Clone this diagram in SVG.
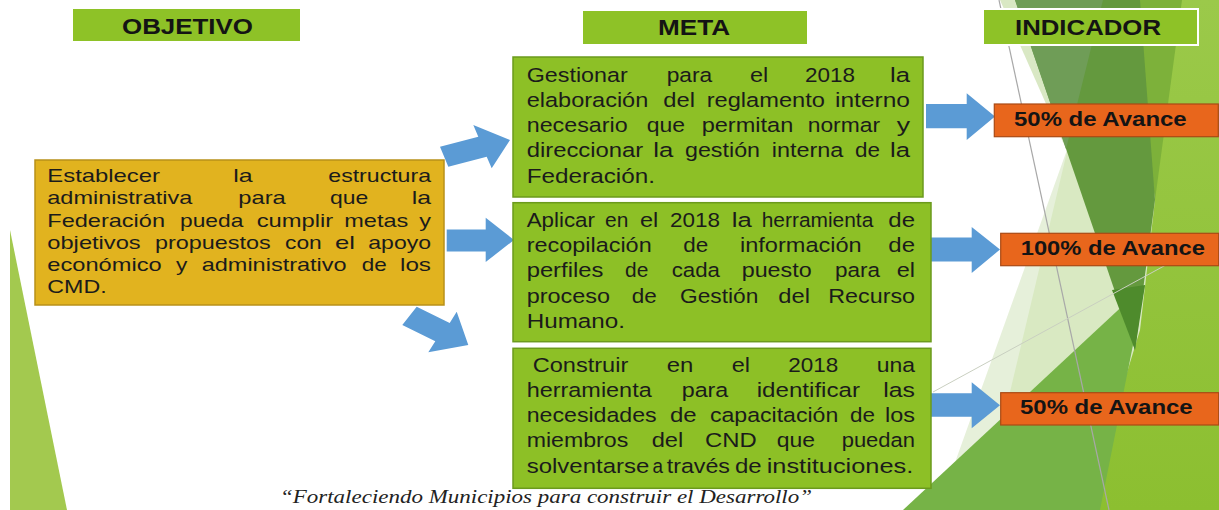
<svg xmlns="http://www.w3.org/2000/svg" width="1219" height="510" viewBox="0 0 1219 510">
<style>
.hdr{fill:#8EC227}
.hdrt{font-family:"Liberation Sans",Arial,sans-serif;font-weight:bold;font-size:22px;fill:#141414}
.meta{fill:#8DC026;stroke:#6B9A1D;stroke-width:1.5}
.obj{fill:#E1B31F;stroke:#B8911A;stroke-width:1.5}
.ind{fill:#E8661C;stroke:#A94A14;stroke-width:1.2}
.t{font-family:"Liberation Sans",Arial,sans-serif;fill:#1B1B1B}
.to{font-size:18.5px}
.tm{font-size:20.5px}
.ti{font-family:"Liberation Sans",Arial,sans-serif;font-weight:bold;font-size:20px;fill:#141414}
.arr{fill:#5B9BD5}
.foot{font-family:"Liberation Serif","Times New Roman",serif;font-style:italic;font-size:18px;fill:#222}
</style>
<defs>
  <linearGradient id="gR" x1="0" y1="0" x2="0" y2="1">
    <stop offset="0" stop-color="#9BC94A"/>
    <stop offset="1" stop-color="#8CBF30"/>
  </linearGradient>
</defs>
<rect width="1219" height="510" fill="#FFFFFF"/>
<g id="background">
  <polygon points="10,230 10,510 67,510" fill="#A3C94F"/>
  <polygon points="1068,147 938,510 1219,510" fill="#E6F0DA"/>
  <polygon points="1103,0 982,510 1219,510 1219,0" fill="#D9E9C2"/>
  <polygon points="1155,0 1219,0 1219,510 1085,510 1140,330 1155,200" fill="url(#gR)"/>
  <polygon points="1130,0 1182,0 1155,200" fill="#7DB13A"/>
  <polygon points="1000,0 1015,0 1066,149" fill="#D9E8C4"/>
  <polygon points="1015,0 1140,0 1155,200 1135,350" fill="#64993E"/>
  <polygon points="1015,0 1103,0 1066,149" fill="#6F9D57"/>
  <polygon points="903,510 1145,285 1100,510" fill="#76B347"/>
  <polygon points="1112,290 1145,285 1135,350" fill="#4E8B2C"/>
  <line x1="999" y1="0" x2="1109" y2="510" stroke="#A8A8A8" stroke-width="1.2"/>
  <line x1="933" y1="392" x2="1219" y2="236" stroke="#C9CFC0" stroke-width="1"/>
</g>
<g id="connectors">
  <polygon class="arr" points="440,146.7 478.3,136.8 473.3,125 510,140 491.7,168.3 486.7,156.7 448.3,166.7"/>
  <polygon class="arr" points="446.7,229.5 485.7,229.5 485.7,217.7 514,240 485.7,262 485.7,251.5 446.7,251.5"/>
  <polygon class="arr" points="416.7,306.7 449.7,322.9 456.7,311.7 468.3,345 428.3,352.3 435.3,341.2 402.3,325"/>
  <polygon class="arr" points="926,104 966.7,104 966.7,93.3 995,116.5 966.7,140 966.7,128.3 926,128.3"/>
  <polygon class="arr" points="931,237.5 971.7,237.5 971.7,227 1000,249.5 971.7,273 971.7,261.5 931,261.5"/>
  <polygon class="arr" points="931,393.3 971.7,393.3 971.7,382.3 1000,405.3 971.7,428.3 971.7,416.7 931,416.7"/>
</g>
<g id="header-objetivo">
  <rect class="hdr" x="73" y="9" width="227" height="32"/>
  <text class="hdrt" x="122" y="33.5" textLength="131" lengthAdjust="spacingAndGlyphs">OBJETIVO</text>
</g>
<g id="header-meta">
  <rect class="hdr" x="583" y="11" width="224" height="33"/>
  <text class="hdrt" x="658" y="35" textLength="72" lengthAdjust="spacingAndGlyphs">META</text>
</g>
<g id="header-indicador">
  <rect class="hdr" x="983" y="9" width="215" height="36" stroke="#FFFFFF" stroke-width="2"/>
  <text class="hdrt" x="1015" y="35" textLength="146" lengthAdjust="spacingAndGlyphs">INDICADOR</text>
</g>
<g id="objetivo">
  <rect class="obj" x="35" y="160" width="409" height="145"/>
  <text class="t to" y="181.5"><tspan x="47.3" textLength="112.7" lengthAdjust="spacingAndGlyphs">Establecer</tspan><tspan x="233.3" textLength="19.4" lengthAdjust="spacingAndGlyphs">la</tspan><tspan x="328.3" textLength="102.7" lengthAdjust="spacingAndGlyphs">estructura</tspan></text>
  <text class="t to" y="204"><tspan x="47.3" textLength="145" lengthAdjust="spacingAndGlyphs">administrativa</tspan><tspan x="238.3" textLength="47.4" lengthAdjust="spacingAndGlyphs">para</tspan><tspan x="330" textLength="38.3" lengthAdjust="spacingAndGlyphs">que</tspan><tspan x="411.7" textLength="19.3" lengthAdjust="spacingAndGlyphs">la</tspan></text>
  <text class="t to" y="226.5"><tspan x="47.3" textLength="117.7" lengthAdjust="spacingAndGlyphs">Federación</tspan><tspan x="180" textLength="63.3" lengthAdjust="spacingAndGlyphs">pueda</tspan><tspan x="256.7" textLength="76.6" lengthAdjust="spacingAndGlyphs">cumplir</tspan><tspan x="344.3" textLength="64" lengthAdjust="spacingAndGlyphs">metas</tspan><tspan x="419.3" textLength="11.7" lengthAdjust="spacingAndGlyphs">y</tspan></text>
  <text class="t to" y="248.5"><tspan x="47.3" textLength="93.4" lengthAdjust="spacingAndGlyphs">objetivos</tspan><tspan x="155" textLength="115.7" lengthAdjust="spacingAndGlyphs">propuestos</tspan><tspan x="285" textLength="36.7" lengthAdjust="spacingAndGlyphs">con</tspan><tspan x="335" textLength="20" lengthAdjust="spacingAndGlyphs">el</tspan><tspan x="368.3" textLength="62.7" lengthAdjust="spacingAndGlyphs">apoyo</tspan></text>
  <text class="t to" y="270.7"><tspan x="47.3" textLength="114.4" lengthAdjust="spacingAndGlyphs">económico</tspan><tspan x="176" textLength="11.3" lengthAdjust="spacingAndGlyphs">y</tspan><tspan x="201.7" textLength="145" lengthAdjust="spacingAndGlyphs">administrativo</tspan><tspan x="361.7" textLength="25" lengthAdjust="spacingAndGlyphs">de</tspan><tspan x="400" textLength="31" lengthAdjust="spacingAndGlyphs">los</tspan></text>
  <text class="t to" y="293"><tspan x="47.3" textLength="59.4" lengthAdjust="spacingAndGlyphs">CMD.</tspan></text>
</g>
<g id="meta-1">
  <rect class="meta" x="513" y="57" width="410" height="140"/>
  <text class="t tm" y="81.7"><tspan x="526.7" textLength="101" lengthAdjust="spacingAndGlyphs">Gestionar</tspan><tspan x="666.7" textLength="45.6" lengthAdjust="spacingAndGlyphs">para</tspan><tspan x="750" textLength="18.3" lengthAdjust="spacingAndGlyphs">el</tspan><tspan x="805" textLength="50" lengthAdjust="spacingAndGlyphs">2018</tspan><tspan x="890" textLength="20" lengthAdjust="spacingAndGlyphs">la</tspan></text>
  <text class="t tm" y="106.7"><tspan x="526.7" textLength="121.6" lengthAdjust="spacingAndGlyphs">elaboración</tspan><tspan x="663.3" textLength="31.7" lengthAdjust="spacingAndGlyphs">del</tspan><tspan x="706.7" textLength="118.3" lengthAdjust="spacingAndGlyphs">reglamento</tspan><tspan x="835" textLength="75" lengthAdjust="spacingAndGlyphs">interno</tspan></text>
  <text class="t tm" y="132"><tspan x="526.7" textLength="101" lengthAdjust="spacingAndGlyphs">necesario</tspan><tspan x="646.7" textLength="38.3" lengthAdjust="spacingAndGlyphs">que</tspan><tspan x="701.7" textLength="91.6" lengthAdjust="spacingAndGlyphs">permitan</tspan><tspan x="807.7" textLength="72.3" lengthAdjust="spacingAndGlyphs">normar</tspan><tspan x="896.7" textLength="13.3" lengthAdjust="spacingAndGlyphs">y</tspan></text>
  <text class="t tm" y="157.3"><tspan x="526.7" textLength="116.6" lengthAdjust="spacingAndGlyphs">direccionar</tspan><tspan x="653.3" textLength="20" lengthAdjust="spacingAndGlyphs">la</tspan><tspan x="685" textLength="75" lengthAdjust="spacingAndGlyphs">gestión</tspan><tspan x="771.7" textLength="71.6" lengthAdjust="spacingAndGlyphs">interna</tspan><tspan x="855" textLength="25" lengthAdjust="spacingAndGlyphs">de</tspan><tspan x="890" textLength="20" lengthAdjust="spacingAndGlyphs">la</tspan></text>
  <text class="t tm" y="182.7"><tspan x="526.7" textLength="128.3" lengthAdjust="spacingAndGlyphs">Federación.</tspan></text>
</g>
<g id="meta-2">
  <rect class="meta" x="513" y="202.7" width="418" height="139"/>
  <text class="t tm" y="226.7"><tspan x="526.7" textLength="68.3" lengthAdjust="spacingAndGlyphs">Aplicar</tspan><tspan x="605" textLength="23.3" lengthAdjust="spacingAndGlyphs">en</tspan><tspan x="640" textLength="18.3" lengthAdjust="spacingAndGlyphs">el</tspan><tspan x="670" textLength="50" lengthAdjust="spacingAndGlyphs">2018</tspan><tspan x="731.7" textLength="20" lengthAdjust="spacingAndGlyphs">la</tspan><tspan x="761.7" textLength="111.6" lengthAdjust="spacingAndGlyphs">herramienta</tspan><tspan x="888.3" textLength="26.7" lengthAdjust="spacingAndGlyphs">de</tspan></text>
  <text class="t tm" y="251.7"><tspan x="526.7" textLength="125" lengthAdjust="spacingAndGlyphs">recopilación</tspan><tspan x="683.3" textLength="25" lengthAdjust="spacingAndGlyphs">de</tspan><tspan x="740" textLength="121.7" lengthAdjust="spacingAndGlyphs">información</tspan><tspan x="888.3" textLength="26.7" lengthAdjust="spacingAndGlyphs">de</tspan></text>
  <text class="t tm" y="276.7"><tspan x="526.7" textLength="76.6" lengthAdjust="spacingAndGlyphs">perfiles</tspan><tspan x="625" textLength="23.3" lengthAdjust="spacingAndGlyphs">de</tspan><tspan x="671.7" textLength="48.3" lengthAdjust="spacingAndGlyphs">cada</tspan><tspan x="741.7" textLength="70" lengthAdjust="spacingAndGlyphs">puesto</tspan><tspan x="835" textLength="45" lengthAdjust="spacingAndGlyphs">para</tspan><tspan x="896.7" textLength="18.3" lengthAdjust="spacingAndGlyphs">el</tspan></text>
  <text class="t tm" y="302.7"><tspan x="526.7" textLength="83.3" lengthAdjust="spacingAndGlyphs">proceso</tspan><tspan x="631.7" textLength="25" lengthAdjust="spacingAndGlyphs">de</tspan><tspan x="680" textLength="78.3" lengthAdjust="spacingAndGlyphs">Gestión</tspan><tspan x="778.3" textLength="31.7" lengthAdjust="spacingAndGlyphs">del</tspan><tspan x="828.3" textLength="86.7" lengthAdjust="spacingAndGlyphs">Recurso</tspan></text>
  <text class="t tm" y="328.3"><tspan x="526.7" textLength="98.3" lengthAdjust="spacingAndGlyphs">Humano.</tspan></text>
</g>
<g id="meta-3">
  <rect class="meta" x="513" y="348.3" width="418" height="140"/>
  <text class="t tm" y="371.7"><tspan x="532.7" textLength="95.6" lengthAdjust="spacingAndGlyphs">Construir</tspan><tspan x="666.7" textLength="26.6" lengthAdjust="spacingAndGlyphs">en</tspan><tspan x="731.7" textLength="18.3" lengthAdjust="spacingAndGlyphs">el</tspan><tspan x="788.3" textLength="50" lengthAdjust="spacingAndGlyphs">2018</tspan><tspan x="876.7" textLength="38.3" lengthAdjust="spacingAndGlyphs">una</tspan></text>
  <text class="t tm" y="396.7"><tspan x="526.7" textLength="125" lengthAdjust="spacingAndGlyphs">herramienta</tspan><tspan x="681.7" textLength="46.6" lengthAdjust="spacingAndGlyphs">para</tspan><tspan x="756.7" textLength="103.3" lengthAdjust="spacingAndGlyphs">identificar</tspan><tspan x="883.3" textLength="31.7" lengthAdjust="spacingAndGlyphs">las</tspan></text>
  <text class="t tm" y="422.3"><tspan x="526.7" textLength="130" lengthAdjust="spacingAndGlyphs">necesidades</tspan><tspan x="670" textLength="26.7" lengthAdjust="spacingAndGlyphs">de</tspan><tspan x="710" textLength="128.3" lengthAdjust="spacingAndGlyphs">capacitación</tspan><tspan x="850" textLength="25" lengthAdjust="spacingAndGlyphs">de</tspan><tspan x="885" textLength="30" lengthAdjust="spacingAndGlyphs">los</tspan></text>
  <text class="t tm" y="447.3"><tspan x="526.7" textLength="101.6" lengthAdjust="spacingAndGlyphs">miembros</tspan><tspan x="651.7" textLength="31.6" lengthAdjust="spacingAndGlyphs">del</tspan><tspan x="705" textLength="51.7" lengthAdjust="spacingAndGlyphs">CND</tspan><tspan x="776.7" textLength="38.3" lengthAdjust="spacingAndGlyphs">que</tspan><tspan x="841.7" textLength="73.3" lengthAdjust="spacingAndGlyphs">puedan</tspan></text>
  <text class="t tm" y="472.7"><tspan x="526.7" textLength="122.6" lengthAdjust="spacingAndGlyphs">solventarse</tspan><tspan x="652.5" textLength="10.5" lengthAdjust="spacingAndGlyphs">a</tspan><tspan x="666.7" textLength="63.3" lengthAdjust="spacingAndGlyphs">través</tspan><tspan x="735" textLength="26.7" lengthAdjust="spacingAndGlyphs">de</tspan><tspan x="766.7" textLength="146.6" lengthAdjust="spacingAndGlyphs">instituciones.</tspan></text>
</g>
<g id="indicador-1">
  <rect class="ind" x="994.3" y="104" width="224" height="32.7"/>
  <text class="ti" x="1014" y="126" textLength="172.7" lengthAdjust="spacingAndGlyphs">50% de Avance</text>
</g>
<g id="indicador-2">
  <rect class="ind" x="1000.7" y="233.3" width="218" height="32.4"/>
  <text class="ti" x="1020.7" y="255" textLength="184.3" lengthAdjust="spacingAndGlyphs">100% de Avance</text>
</g>
<g id="indicador-3">
  <rect class="ind" x="1000.7" y="392.7" width="218" height="32.3"/>
  <text class="ti" x="1020" y="414.3" textLength="172.7" lengthAdjust="spacingAndGlyphs">50% de Avance</text>
</g>
<text class="foot" x="280" y="503" textLength="532" lengthAdjust="spacingAndGlyphs">“Fortaleciendo Municipios  para construir el Desarrollo”</text>
</svg>
